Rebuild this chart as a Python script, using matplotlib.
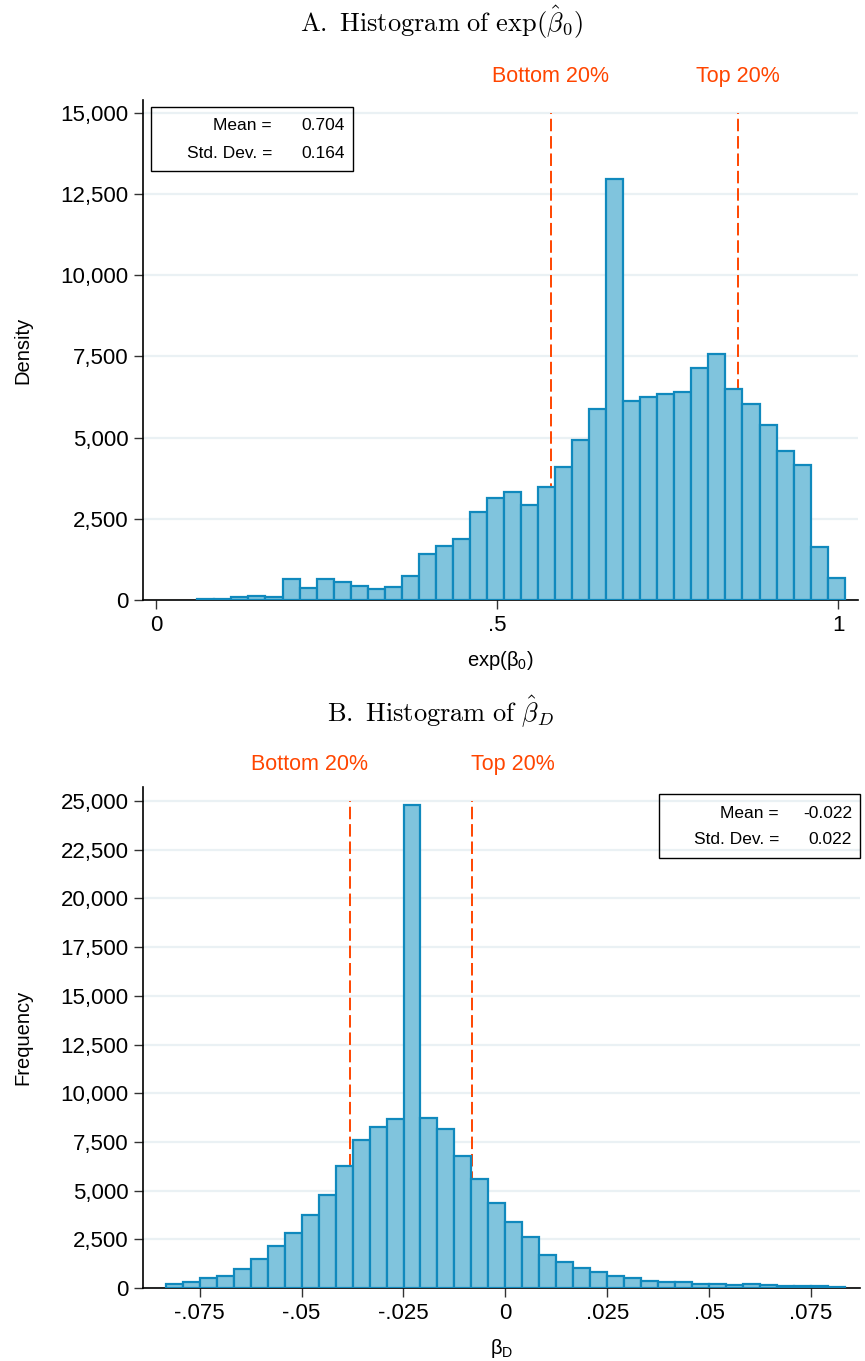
import numpy as np
import matplotlib
matplotlib.use('Agg')
import matplotlib.pyplot as plt
from matplotlib.patches import Rectangle
from matplotlib.ticker import FuncFormatter

plt.rcParams['font.family'] = ['Liberation Sans', 'DejaVu Sans']
plt.rcParams['lines.scale_dashes'] = False

# ---- panel A : exp(beta_0) ----
a_lo, a_hi = 0.0606, 1.0098
a_counts = [30, 40, 100, 130, 100, 643, 366, 643, 551, 427,
            334, 396, 727, 1430, 1656, 1873, 2710, 3135, 3321, 2920,
            3475, 4093, 4938, 5895, 12972, 6130, 6253, 6336, 6407, 7148,
            7580, 6500, 6037, 5389, 4586, 4167, 1623, 679]
a_cuts = [0.5787, 0.853]
a_stats = [0.704, 0.164]
a_xticks = [0, 0.5, 1]
a_xticklabels = ['0', '.5', '1']
a_yticks = [0, 2500, 5000, 7500, 10000, 12500, 15000]

# ---- panel B : beta_D ----
b_lo, b_hi = -0.0833, 0.0833
b_counts = [185, 308, 493, 616, 955, 1468, 2136, 2803, 3747, 4754,
            6263, 7598, 8244, 8655, 24774, 8706, 8142, 6756, 5595, 4363,
            3388, 2598, 1694, 1335, 1006, 821, 616, 493, 375, 287,
            300, 205, 205, 133, 205, 133, 100, 100, 100, 70]
b_cuts = [-0.0381, -0.0081]
b_stats = [-0.022, 0.022]
b_xticks = [-0.075, -0.05, -0.025, 0, 0.025, 0.05, 0.075]
b_xticklabels = ['-.075', '-.05', '-.025', '0', '.025', '.05', '.075']
b_yticks = [0, 2500, 5000, 7500, 10000, 12500, 15000, 17500, 20000, 22500, 25000]

cut_labels = ['Bottom 20%', 'Top 20%']

W, H = 865, 1361
fill_c = '#80c4dd'
edge_c = '#1089bd'
red_c = '#ff4500'
grid_c = '#eaf1f4'

fig = plt.figure(figsize=(W / 100, H / 100), dpi=100)


def fx(x):
    return x / W


def fy(y):
    return 1 - y / H


def make_panel(rect_px, lo, hi, counts, cuts, stats, xlim, ylim, xticks, xticklabels,
               yticks, ylabel, xlabel, title, title_y, box_px, lab_off):
    l, t, r, b = rect_px
    ax = fig.add_axes([fx(l), fy(b), fx(r - l), (b - t) / H])
    edges = np.linspace(lo, hi, len(counts) + 1)
    ax.bar(edges[:-1], counts, width=np.diff(edges), align='edge',
           color=fill_c, edgecolor=edge_c, linewidth=1.6, zorder=3)
    top = yticks[-1]
    for c, lab, off in zip(cuts, cut_labels, lab_off):
        ax.plot([c, c], [0, top], color=red_c, lw=1.4, dashes=(9, 3.5), zorder=2)
        ax.annotate(lab, xy=(c, top), xytext=(off, 26), textcoords='offset points',
                    ha='center', va='center', color=red_c, fontsize=15.5,
                    annotation_clip=False)
    ax.set_xlim(*xlim)
    ax.set_ylim(*ylim)
    ax.set_xticks(xticks)
    ax.set_xticklabels(xticklabels)
    ax.set_yticks(yticks)
    ax.yaxis.set_major_formatter(FuncFormatter(lambda v, p: f'{int(v):,}'))
    ax.tick_params(labelsize=16, length=6.5, width=1, color='#333333', pad=4)
    ax.yaxis.grid(True, color=grid_c, lw=1.6, zorder=0)
    ax.set_axisbelow(True)
    for s in ['top', 'right']:
        ax.spines[s].set_visible(False)
    for s in ['left', 'bottom']:
        ax.spines[s].set_linewidth(1.2)
    ax.set_ylabel(ylabel, fontsize=14.5, labelpad=20)
    ax.set_xlabel(xlabel, fontsize=14.5, labelpad=10)

    fig.text(fx(441), fy(title_y), title, ha='center', va='center', fontsize=19,
             math_fontfamily='cm')

    bl, bt, br, bb = box_px
    fig.patches.append(Rectangle((fx(bl), fy(bb)), fx(br - bl), (bb - bt) / H,
                                 transform=fig.transFigure, fill=False,
                                 edgecolor='black', lw=1.0))
    rows = [('Mean =', stats[0]), ('Std. Dev. =', stats[1])]
    for i, (name, val) in enumerate(rows):
        yy = bt + 19 + 27 * i
        fig.text(fx(br - 81), fy(yy), name, ha='right', va='center', fontsize=12.5)
        fig.text(fx(br - 8), fy(yy), f'{val:.3f}', ha='right', va='center', fontsize=12.5)
    return ax


make_panel((143, 100, 858, 600), a_lo, a_hi, a_counts, a_cuts, a_stats,
           (-0.0191, 1.0293), (0, 15400), a_xticks, a_xticklabels, a_yticks,
           'Density', r'exp(β$\mathregular{_0}$)',
           r'$\mathrm{A.\ Histogram\ of\ }\exp(\hat{\beta}_0)$', 22,
           (151, 107, 353, 171), (0, 0))

make_panel((143, 787, 860, 1288), b_lo, b_hi, b_counts, b_cuts, b_stats,
           (-0.0889, 0.0870), (0, 25719), b_xticks, b_xticklabels, b_yticks,
           'Frequency', r'β$\mathregular{_D}$',
           r'$\mathrm{B.\ Histogram\ of\ }\hat{\beta}_D$', 712,
           (659, 794, 860, 858), (-29, 29))

fig.savefig('out.png', dpi=100)
